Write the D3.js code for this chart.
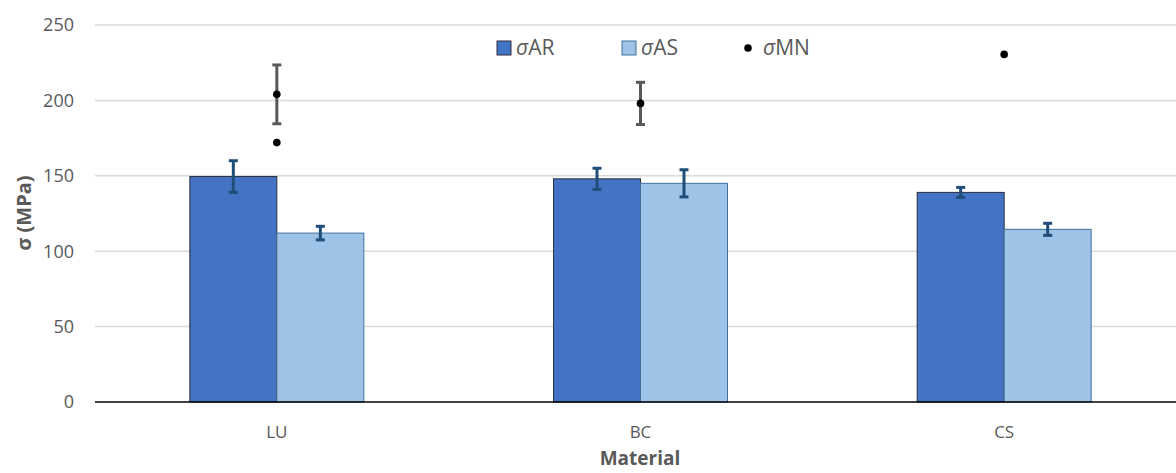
<!DOCTYPE html>
<html><head><meta charset="utf-8">
<script src="https://cdn.jsdelivr.net/npm/d3@7"></script>
<style>body{margin:0;background:#fff;}svg{display:block;font-family:"Open Sans",sans-serif;}</style>
</head><body><svg id="c" width="1176" height="473"></svg>
<script>
const categories = ["LU","BC","CS"];
const arValues = [149.5,148,139];
const arErrors = [10.5,7,3.3];
const asValues = [112,145,114.5];
const asErrors = [4.5,9,4];
const mnValues = [204,198,230.5];
const mnErrors = [19.5,14,0];
const mnExtra = [172,null,null];
const yTicks = [0,50,100,150,200,250];

const svg = d3.select("#c");
const x = d3.scaleBand().domain(categories).range([95,1186]);
const y = d3.scaleLinear().domain([0,250]).range([402,25]);
const sub = d3.scaleBand().domain(["AR","AS"]).range([0,174]);
const off = (x.bandwidth()-174)/2;

svg.append("g").selectAll("line").data(yTicks.filter(d=>d>0)).join("line")
  .attr("x1",95).attr("x2",1176).attr("y1",d=>y(d)).attr("y2",d=>y(d))
  .attr("stroke","#d9d9d9").attr("stroke-width",1.5);

svg.append("g").selectAll("text").data(yTicks).join("text")
  .attr("x",74).attr("y",d=>y(d)).attr("dy","0.35em").attr("text-anchor","end")
  .attr("font-size",18).attr("fill","#595959").text(d=>d);

const series = [
  {key:"AR",vals:arValues,errs:arErrors,fill:"#4472C4",stroke:"#2b2f3a"},
  {key:"AS",vals:asValues,errs:asErrors,fill:"#9DC3E6",stroke:"#41719C"}
];
series.forEach(s=>{
  svg.append("g").selectAll("rect").data(categories).join("rect")
    .attr("x",c=>x(c)+off+sub(s.key)).attr("width",sub.bandwidth())
    .attr("y",(c,i)=>y(s.vals[i])).attr("height",(c,i)=>y(0)-y(s.vals[i]))
    .attr("fill",s.fill).attr("stroke",s.stroke).attr("stroke-width",1);
});
svg.append("line").attr("x1",95).attr("x2",1176).attr("y1",y(0)).attr("y2",y(0))
  .attr("stroke","#000").attr("stroke-width",1.5);

function errBar(g,cx,v,e,color){
  if(!e) return;
  g.append("line").attr("x1",cx).attr("x2",cx).attr("y1",y(v+e)).attr("y2",y(v-e))
    .attr("stroke",color).attr("stroke-width",3);
  [v+e,v-e].forEach(t=>g.append("line").attr("x1",cx-4.5).attr("x2",cx+4.5)
    .attr("y1",y(t)).attr("y2",y(t)).attr("stroke",color).attr("stroke-width",3));
}
const eg = svg.append("g");
series.forEach(s=>{
  categories.forEach((c,i)=>{
    const cx = x(c)+off+sub(s.key)+sub.bandwidth()/2;
    errBar(eg,cx,s.vals[i],s.errs[i],"#1F4E79");
  });
});
categories.forEach((c,i)=>{
  const cx = x(c)+x.bandwidth()/2;
  errBar(eg,cx,mnValues[i],mnErrors[i],"#595959");
});
svg.append("g").selectAll("circle").data(categories).join("circle")
  .attr("cx",c=>x(c)+x.bandwidth()/2).attr("cy",(c,i)=>y(mnValues[i])).attr("r",3.8).attr("fill","#000");
svg.append("g").selectAll("circle").data(categories.filter((c,i)=>mnExtra[i]!=null)).join("circle")
  .attr("cx",c=>x(c)+x.bandwidth()/2).attr("cy",c=>y(mnExtra[categories.indexOf(c)])).attr("r",3.8).attr("fill","#000");

svg.append("g").selectAll("text").data(categories).join("text")
  .attr("x",c=>x(c)+x.bandwidth()/2).attr("y",438).attr("text-anchor","middle")
  .attr("font-size",17).attr("fill","#595959").text(c=>c);

svg.append("text").attr("x",640).attr("y",465).attr("text-anchor","middle")
  .attr("font-size",19).attr("font-weight","bold").attr("fill","#595959").text("Material");
svg.append("text").attr("transform","translate(31,213) rotate(-90)").attr("text-anchor","middle")
  .attr("font-size",20).attr("font-weight","bold").attr("fill","#595959").text("σ (MPa)");

const lg = svg.append("g");
lg.append("rect").attr("x",497).attr("y",41).attr("width",14).attr("height",14).attr("fill","#4472C4").attr("stroke","#2b2f3a");
lg.append("text").attr("x",516).attr("y",48).attr("dy","0.35em").attr("font-size",21).attr("fill","#595959")
  .html('<tspan font-style="italic">σ</tspan>AR');
lg.append("rect").attr("x",622).attr("y",41).attr("width",14).attr("height",14).attr("fill","#9DC3E6").attr("stroke","#41719C");
lg.append("text").attr("x",641).attr("y",48).attr("dy","0.35em").attr("font-size",21).attr("fill","#595959")
  .html('<tspan font-style="italic">σ</tspan>AS');
lg.append("circle").attr("cx",748).attr("cy",48).attr("r",3.8).attr("fill","#000");
lg.append("text").attr("x",763).attr("y",48).attr("dy","0.35em").attr("font-size",21).attr("fill","#595959")
  .html('<tspan font-style="italic">σ</tspan>MN');
</script></body></html>
